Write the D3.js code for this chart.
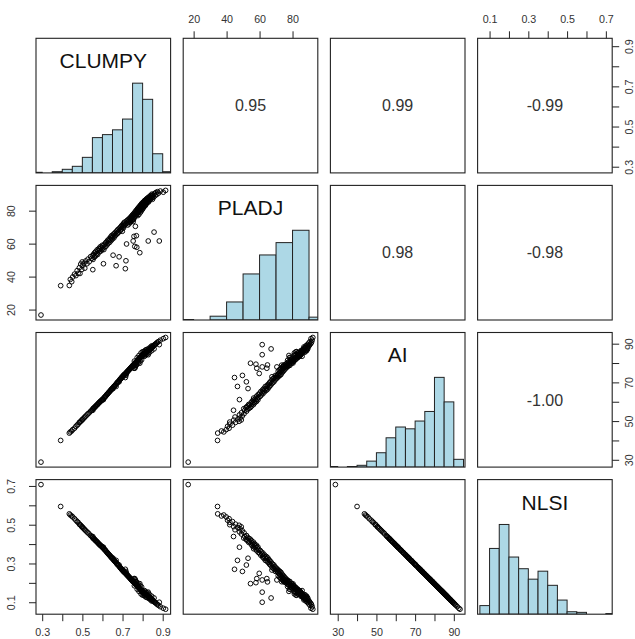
<!DOCTYPE html>
<html>
<head>
<meta charset="utf-8">
<script src="https://cdn.jsdelivr.net/npm/d3@7"></script>
<style>
  body { margin: 0; background: #fff; }
  svg { display: block; }
  text { font-family: "Liberation Sans", Arial, sans-serif; }
</style>
</head>
<body>
<svg id="chart" width="635" height="639"></svg>
<script>
// ---- variables of the scatterplot matrix ----
const varNames = ["CLUMPY", "PLADJ", "AI", "NLSI"];

// one value per landscape observation, same order in every array
const clumpy = [
  0.294,0.392,0.435,0.440,0.447,0.452,0.461,0.468,0.474,0.479,
  0.485,0.488,0.492,0.497,0.499,0.503,0.508,0.512,0.517,0.523,
  0.528,0.534,0.541,0.552,0.546,0.551,0.553,0.556,0.558,0.561,
  0.563,0.566,0.568,0.571,0.574,0.576,0.579,0.582,0.584,0.587,
  0.589,0.592,0.594,0.597,0.599,0.601,0.603,0.605,0.607,0.610,
  0.612,0.615,0.617,0.620,0.623,0.626,0.628,0.631,0.634,0.636,
  0.639,0.641,0.643,0.645,0.647,0.649,0.651,0.653,0.655,0.657,
  0.659,0.661,0.664,0.666,0.668,0.670,0.672,0.674,0.676,0.678,
  0.681,0.683,0.685,0.688,0.690,0.692,0.694,0.696,0.698,0.699,
  0.701,0.703,0.705,0.706,0.708,0.710,0.712,0.714,0.716,0.717,
  0.719,0.720,0.722,0.724,0.726,0.728,0.730,0.732,0.734,0.736,
  0.738,0.740,0.741,0.743,0.744,0.746,0.747,0.748,0.749,0.753,
  0.751,0.752,0.754,0.755,0.756,0.757,0.758,0.759,0.760,0.761,
  0.762,0.763,0.764,0.765,0.766,0.767,0.768,0.769,0.770,0.771,
  0.772,0.773,0.774,0.775,0.776,0.777,0.778,0.779,0.780,0.781,
  0.782,0.783,0.784,0.785,0.786,0.787,0.788,0.789,0.790,0.791,
  0.792,0.793,0.794,0.795,0.796,0.797,0.798,0.799,0.799,0.753,
  0.801,0.802,0.803,0.804,0.805,0.806,0.807,0.808,0.809,0.810,
  0.811,0.812,0.813,0.814,0.815,0.816,0.817,0.818,0.820,0.821,
  0.822,0.823,0.825,0.826,0.827,0.828,0.829,0.831,0.832,0.834,
  0.835,0.837,0.838,0.840,0.842,0.843,0.845,0.846,0.847,0.848,
  0.849,0.852,0.855,0.857,0.859,0.862,0.866,0.870,0.874,0.879,
  0.883,0.888,0.903,0.9145
];
const pladj = [
  16.7,34.5,34.6,38.3,36.9,39.8,41.5,40.6,43.6,42.0,
  45.4,41.9,47.6,44.3,48.9,46.9,48.2,45.1,49.5,47.8,
  50.6,49.0,52.1,44.2,51.0,52.8,50.4,53.6,51.7,54.4,
  52.2,55.1,53.0,54.0,56.3,53.4,55.7,57.0,54.9,56.6,
  58.1,55.5,57.6,56.2,59.0,57.2,58.6,47.8,56.4,59.5,
  57.9,60.4,58.4,61.0,59.3,62.0,60.1,61.6,63.0,60.8,
  62.5,64.1,61.9,63.4,65.0,62.7,64.2,53.0,65.6,63.5,
  66.1,64.6,66.8,65.1,46.6,67.4,65.9,68.0,66.3,68.7,
  67.0,52.0,69.3,67.7,70.0,68.4,70.6,69.1,71.2,67.5,
  70.3,71.8,69.6,72.4,70.9,73.0,71.4,44.8,72.0,49.6,
  73.6,59.8,72.6,74.2,71.3,73.2,74.8,72.0,73.9,75.5,
  72.9,74.6,76.1,73.6,75.3,76.8,74.1,75.9,77.3,61.6,
  75.0,76.6,78.0,74.7,77.2,64.4,75.8,78.6,76.4,58.3,
  77.9,79.3,70.5,76.9,78.4,80.0,77.5,64.8,79.0,57.8,
  80.6,78.1,79.6,81.2,77.0,78.8,80.3,81.8,79.2,80.8,
  77.8,82.3,79.9,81.4,54.5,83.0,80.5,82.0,79.1,83.5,
  81.1,82.6,84.0,80.2,81.7,83.2,84.6,82.1,80.9,73.4,
  83.0,84.9,81.6,83.8,85.3,82.4,84.1,85.8,83.1,84.7,
  86.2,82.9,84.4,85.9,83.6,86.7,85.1,84.0,86.4,87.3,
  84.9,86.0,85.4,87.8,86.5,61.6,85.2,87.0,88.3,86.1,
  87.5,88.9,86.8,88.0,89.3,87.4,88.6,90.0,87.9,89.0,
  86.9,89.6,88.2,67.0,90.4,89.1,91.0,89.8,91.5,90.6,
  61.6,91.9,91.2,92.3
];
const ai = [
  28.8,40.0,43.8,44.4,44.9,45.6,46.3,47.3,47.9,48.4,
  49.3,49.5,49.9,50.5,50.6,51.1,51.6,52.1,52.6,53.2,
  53.8,54.3,55.1,55.6,55.5,56.1,56.4,56.6,56.9,57.0,
  57.4,57.7,57.8,58.2,58.5,58.6,59.1,59.4,59.5,59.9,
  60.1,60.3,60.6,60.8,61.0,61.2,61.5,61.1,61.9,62.3,
  62.4,62.8,63.0,63.5,63.8,64.1,64.4,64.8,65.1,65.3,
  65.7,65.9,66.2,66.4,66.6,66.9,67.1,66.8,67.5,67.9,
  68.0,68.3,68.6,68.9,67.9,69.4,69.6,69.9,70.1,70.3,
  70.7,70.3,71.2,71.6,71.8,72.0,72.3,72.5,72.8,72.9,
  73.1,73.3,73.6,73.7,73.9,74.1,74.3,72.5,74.8,73.6,
  75.0,74.6,75.4,75.6,75.8,76.0,76.2,76.5,76.7,76.9,
  77.1,77.4,77.5,77.7,77.8,78.0,78.2,78.3,78.4,78.0,
  78.6,78.8,78.9,79.0,79.2,77.3,79.4,81.0,79.6,77.3,
  79.8,79.9,78.0,80.2,78.8,80.4,80.5,79.0,80.7,79.4,
  81.0,82.8,81.2,81.3,81.4,81.5,80.0,81.8,81.9,82.0,
  83.9,82.2,82.3,82.4,79.9,82.7,81.0,82.9,83.0,83.1,
  85.2,83.3,83.4,81.6,83.6,83.7,83.8,85.8,84.0,78.9,
  84.1,84.3,84.2,84.5,84.6,85.9,84.7,83.5,84.9,85.0,
  86.3,85.1,83.8,85.3,85.4,86.8,85.5,84.4,85.7,87.0,
  85.9,86.0,84.8,86.2,86.3,84.3,86.5,87.6,86.7,86.8,
  85.6,87.1,87.2,88.3,87.5,87.6,86.4,88.9,88.0,88.2,
  88.3,88.6,89.0,87.3,89.4,89.6,90.0,90.3,90.7,91.1,
  89.5,91.8,92.6,93.2
];
const nlsi = [
  0.707,0.594,0.556,0.550,0.545,0.540,0.531,0.523,0.516,0.512,
  0.503,0.500,0.497,0.490,0.489,0.484,0.479,0.474,0.469,0.463,
  0.458,0.452,0.444,0.439,0.440,0.434,0.431,0.429,0.426,0.425,
  0.421,0.418,0.417,0.413,0.410,0.409,0.404,0.401,0.400,0.396,
  0.394,0.392,0.389,0.387,0.385,0.383,0.380,0.384,0.376,0.372,
  0.371,0.367,0.365,0.360,0.357,0.354,0.351,0.347,0.344,0.342,
  0.338,0.336,0.333,0.331,0.329,0.326,0.324,0.327,0.320,0.316,
  0.315,0.312,0.309,0.306,0.316,0.301,0.299,0.296,0.294,0.292,
  0.288,0.292,0.283,0.279,0.277,0.275,0.272,0.270,0.267,0.266,
  0.264,0.262,0.259,0.258,0.256,0.254,0.252,0.270,0.247,0.259,
  0.245,0.249,0.241,0.239,0.237,0.235,0.233,0.230,0.228,0.226,
  0.224,0.221,0.220,0.218,0.217,0.215,0.213,0.212,0.211,0.215,
  0.209,0.207,0.206,0.205,0.203,0.222,0.201,0.185,0.199,0.222,
  0.197,0.196,0.215,0.193,0.207,0.191,0.190,0.205,0.188,0.201,
  0.185,0.167,0.183,0.182,0.181,0.180,0.195,0.177,0.176,0.175,
  0.156,0.173,0.172,0.171,0.196,0.168,0.185,0.166,0.165,0.164,
  0.143,0.162,0.161,0.179,0.159,0.158,0.157,0.137,0.155,0.206,
  0.154,0.152,0.153,0.150,0.149,0.136,0.148,0.160,0.146,0.145,
  0.132,0.144,0.157,0.142,0.141,0.127,0.140,0.151,0.138,0.125,
  0.136,0.135,0.147,0.133,0.132,0.152,0.130,0.119,0.128,0.127,
  0.139,0.124,0.123,0.112,0.120,0.119,0.131,0.106,0.115,0.113,
  0.112,0.109,0.105,0.122,0.101,0.099,0.095,0.092,0.088,0.084,
  0.100,0.077,0.069,0.064
];

// ---- histogram bins (first break, bin width, counts) ----
const clumpyBreakStart = 0.25, clumpyBinWidth = 0.05;
const clumpyCounts = [1, 0, 2, 6, 11, 26, 59, 64, 72, 90, 150, 123, 32, 2];
const pladjBreakStart = 10, pladjBinWidth = 10;
const pladjCounts = [1, 0, 8, 38, 97, 137, 163, 189, 6];
const aiBreakStart = 25, aiBinWidth = 5;
const aiCounts = [1, 0, 1, 3, 10, 24, 49, 67, 64, 77, 93, 150, 109, 13];
const nlsiBreakStart = 0.05, nlsiBinWidth = 0.05;
const nlsiCounts = [14, 107, 146, 93, 74, 57, 70, 47, 23, 4, 3, 0, 0, 1];

// ---- correlation coefficients shown in the upper panels ----
const corrPairs = [[0, 1], [0, 2], [0, 3], [1, 2], [1, 3], [2, 3]];
const corrLabels = ["0.95", "0.99", "-0.99", "0.98", "-0.98", "-1.00"];

// ---- axis ticks and their labels ----
const clumpyTicks = [0.3, 0.4, 0.5, 0.6, 0.7, 0.8, 0.9];
const clumpyTickLabels = ["0.3", "", "0.5", "", "0.7", "", "0.9"];
const pladjTicks = [20, 40, 60, 80];
const pladjTickLabels = ["20", "40", "60", "80"];
const aiTicks = [30, 40, 50, 60, 70, 80, 90];
const aiTickLabels = ["30", "", "50", "", "70", "", "90"];
const nlsiTicks = [0.1, 0.2, 0.3, 0.4, 0.5, 0.6, 0.7];
const nlsiTickLabels = ["0.1", "", "0.3", "", "0.5", "", "0.7"];

// ---- assemble per-variable settings ----
const variables = [
  { name: varNames[0], values: clumpy, start: clumpyBreakStart, width: clumpyBinWidth, counts: clumpyCounts, ticks: clumpyTicks, labels: clumpyTickLabels },
  { name: varNames[1], values: pladj,  start: pladjBreakStart,  width: pladjBinWidth,  counts: pladjCounts,  ticks: pladjTicks,  labels: pladjTickLabels },
  { name: varNames[2], values: ai,     start: aiBreakStart,     width: aiBinWidth,     counts: aiCounts,     ticks: aiTicks,     labels: aiTickLabels },
  { name: varNames[3], values: nlsi,   start: nlsiBreakStart,   width: nlsiBinWidth,   counts: nlsiCounts,   ticks: nlsiTicks,   labels: nlsiTickLabels }
];

// ---- layout ----
const panelLeft = [36, 183.2, 330.4, 477.6];
const panelTop = [38.3, 185.4, 332.5, 479.6];
const size = 134.6;
const tickLen = 7;
const ink = "#222";

// data range padded by 4% on each side
variables.forEach(v => {
  const [lo, hi] = d3.extent(v.values);
  const pad = (hi - lo) * 0.04;
  v.x = d3.scaleLinear().domain([lo - pad, hi + pad]).range([0, size]);
  v.y = d3.scaleLinear().domain([lo - pad, hi + pad]).range([size, 0]);
});

const svg = d3.select("#chart");
const defs = svg.append("defs");
defs.append("clipPath").attr("id", "panel-clip")
  .append("rect").attr("x", 0).attr("y", 0).attr("width", size).attr("height", size);

const n = variables.length;
for (let r = 0; r < n; r++) {
  for (let c = 0; c < n; c++) {
    const g = svg.append("g").attr("transform", `translate(${panelLeft[c]},${panelTop[r]})`);
    const vx = variables[c], vy = variables[r];

    if (r === c) {
      // histogram with the variable name above it
      const hy = d3.scaleLinear().domain([0, 1.5]).range([size, 0]);
      const maxCount = d3.max(vx.counts);
      const bins = vx.counts.map((count, k) => ({
        x0: vx.start + k * vx.width,
        x1: vx.start + (k + 1) * vx.width,
        h: count / maxCount
      }));
      g.append("g").attr("clip-path", "url(#panel-clip)")
        .selectAll("rect").data(bins).join("rect")
        .attr("x", d => vx.x(d.x0))
        .attr("width", d => vx.x(d.x1) - vx.x(d.x0))
        .attr("y", d => hy(d.h))
        .attr("height", d => size - hy(d.h))
        .attr("fill", "#ADD8E6")
        .attr("stroke", ink)
        .attr("stroke-width", 1);
      g.append("text")
        .attr("x", size / 2)
        .attr("y", size * (1 - 0.8333))
        .attr("dy", "0.36em")
        .attr("text-anchor", "middle")
        .attr("font-size", 21)
        .attr("fill", "#111")
        .text(vx.name);
    } else if (r > c) {
      // scatter of column variable against row variable
      g.selectAll("circle").data(vx.values).join("circle")
        .attr("cx", d => vx.x(d))
        .attr("cy", (d, i) => vy.y(vy.values[i]))
        .attr("r", 2.35)
        .attr("fill", "none")
        .attr("stroke", "#000")
        .attr("stroke-width", 0.95);
    } else {
      // correlation coefficient
      const k = corrPairs.findIndex(p => p[0] === r && p[1] === c);
      g.append("text")
        .attr("x", size / 2)
        .attr("y", size / 2)
        .attr("dy", "0.36em")
        .attr("text-anchor", "middle")
        .attr("font-size", 16)
        .attr("fill", "#333")
        .text(corrLabels[k]);
    }

    g.append("rect")
      .attr("width", size).attr("height", size)
      .attr("fill", "none").attr("stroke", ink).attr("stroke-width", 1.1);
  }
}

// ---- axes, alternating sides like a pairs plot ----
function styleAxis(sel) {
  sel.select(".domain").remove();
  sel.selectAll(".tick line").attr("stroke", ink);
  sel.selectAll(".tick text").attr("font-size", 10.7).attr("fill", "#333")
    .attr("font-family", "'Liberation Sans', Arial, sans-serif");
}

for (let j = 0; j < n; j++) {
  const v = variables[j];
  const fmt = (d, i) => v.labels[i];
  if (j % 2 === 0) {
    // bottom axis under the last row
    const ax = svg.append("g")
      .attr("transform", `translate(${panelLeft[j]},${panelTop[n - 1] + size})`)
      .call(d3.axisBottom(v.x).tickValues(v.ticks).tickFormat(fmt).tickSize(tickLen).tickSizeOuter(0));
    styleAxis(ax);
    ax.selectAll(".tick text").attr("y", 17.5).attr("dy", "0.36em");
  } else {
    // top axis over the first row
    const ax = svg.append("g")
      .attr("transform", `translate(${panelLeft[j]},${panelTop[0]})`)
      .call(d3.axisTop(v.x).tickValues(v.ticks).tickFormat(fmt).tickSize(tickLen).tickSizeOuter(0));
    styleAxis(ax);
    ax.selectAll(".tick text").attr("y", -19.5).attr("dy", "0.36em");
  }
}

for (let i = 0; i < n; i++) {
  const v = variables[i];
  const fmt = (d, k) => v.labels[k];
  if (i % 2 === 1) {
    // left axis
    const ax = svg.append("g")
      .attr("transform", `translate(${panelLeft[0]},${panelTop[i]})`)
      .call(d3.axisLeft(v.y).tickValues(v.ticks).tickFormat(fmt).tickSize(tickLen).tickSizeOuter(0));
    styleAxis(ax);
    ax.selectAll(".tick text")
      .attr("x", 0).attr("y", 0).attr("dy", "0.36em")
      .attr("text-anchor", "middle")
      .attr("transform", "translate(-25,0) rotate(-90)");
  } else {
    // right axis
    const ax = svg.append("g")
      .attr("transform", `translate(${panelLeft[n - 1] + size},${panelTop[i]})`)
      .call(d3.axisRight(v.y).tickValues(v.ticks).tickFormat(fmt).tickSize(tickLen).tickSizeOuter(0));
    styleAxis(ax);
    ax.selectAll(".tick text")
      .attr("x", 0).attr("y", 0).attr("dy", "0.36em")
      .attr("text-anchor", "middle")
      .attr("transform", "translate(16.5,0) rotate(-90)");
  }
}
</script>
</body>
</html>
